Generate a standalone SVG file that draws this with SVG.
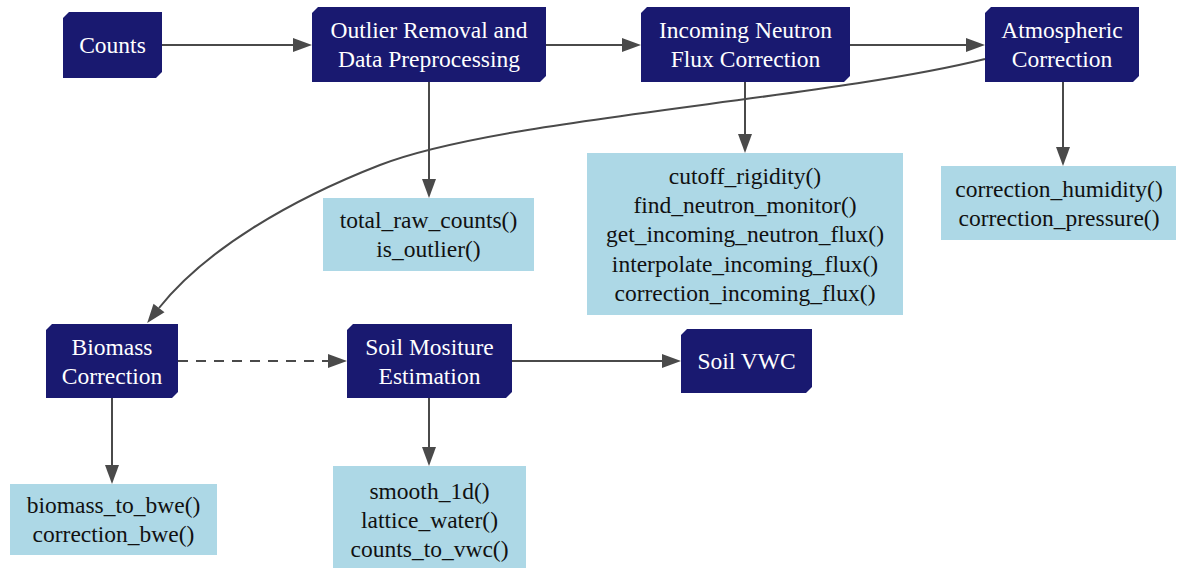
<svg xmlns="http://www.w3.org/2000/svg" width="1182" height="568" viewBox="0 0 1182 568">
<style>
.dn{fill:#191970;}
.ln{fill:#add8e6;}
.t{font-family:"Liberation Serif","Times New Roman",Times,"Nimbus Roman","Nimbus Roman No9 L","FreeSerif","DejaVu Serif","Noto Serif",serif;font-size:23.5px;text-anchor:middle;}
.dt{fill:#ffffff;}
.lt{fill:#111111;}
.e{fill:none;stroke:#4a4a4a;stroke-width:2;}
.dash{stroke-dasharray:10,8;}
</style>
<defs>
<marker id="ah" markerUnits="userSpaceOnUse" markerWidth="20" markerHeight="14" refX="0" refY="7" orient="auto" overflow="visible">
<path d="M0,0 L19,7 L0,14 z" fill="#4a4a4a"/>
</marker>
</defs>
<rect width="1182" height="568" fill="#ffffff"/>
<g id="edges">
<path class="e" d="M162,45 L293,45" marker-end="url(#ah)"/>
<path class="e" d="M546,45 L622,45" marker-end="url(#ah)"/>
<path class="e" d="M850,45 L966,45" marker-end="url(#ah)"/>
<path class="e" d="M429,82 L429,179" marker-end="url(#ah)"/>
<path class="e" d="M745,82 L745,134" marker-end="url(#ah)"/>
<path class="e" d="M1063,82 L1063,147" marker-end="url(#ah)"/>
<path class="e" d="M985,59 C820,100 500,118 380,165 C290,200 205,250 159,308" marker-end="url(#ah)"/>
<path class="e dash" d="M178,361 L328,361" marker-end="url(#ah)"/>
<path class="e" d="M512,361 L662,361" marker-end="url(#ah)"/>
<path class="e" d="M112,398 L112,465" marker-end="url(#ah)"/>
<path class="e" d="M429,398 L429,447" marker-end="url(#ah)"/>
</g>
<g id="counts">
<polygon class="dn" points="69,12 162,12 162,72 156,78 63,78 63,18"/>
<text class="t dt" x="112.5" y="53">Counts</text>
</g>
<g id="outlier">
<polygon class="dn" points="318,7 546,7 546,76 540,82 312,82 312,13"/>
<text class="t dt" x="429" y="38">Outlier Removal and</text>
<text class="t dt" x="429" y="67">Data Preprocessing</text>
</g>
<g id="incoming">
<polygon class="dn" points="647,7 850,7 850,76 844,82 641,82 641,13"/>
<text class="t dt" x="745.5" y="38">Incoming Neutron</text>
<text class="t dt" x="745.5" y="67">Flux Correction</text>
</g>
<g id="atmospheric">
<polygon class="dn" points="991,7 1139,7 1139,76 1133,82 985,82 985,13"/>
<text class="t dt" x="1062" y="38">Atmospheric</text>
<text class="t dt" x="1062" y="67">Correction</text>
</g>
<g id="outlier_fns">
<rect class="ln" x="323" y="198" width="211" height="73"/>
<text class="t lt" x="428.5" y="228">total_raw_counts()</text>
<text class="t lt" x="428.5" y="257">is_outlier()</text>
</g>
<g id="incoming_fns">
<rect class="ln" x="587" y="153" width="316" height="162"/>
<text class="t lt" x="745" y="184">cutoff_rigidity()</text>
<text class="t lt" x="745" y="213">find_neutron_monitor()</text>
<text class="t lt" x="745" y="242">get_incoming_neutron_flux()</text>
<text class="t lt" x="745" y="272">interpolate_incoming_flux()</text>
<text class="t lt" x="745" y="301">correction_incoming_flux()</text>
</g>
<g id="atmospheric_fns">
<rect class="ln" x="941" y="166" width="235" height="74"/>
<text class="t lt" x="1059" y="197">correction_humidity()</text>
<text class="t lt" x="1059" y="226">correction_pressure()</text>
</g>
<g id="biomass">
<polygon class="dn" points="52,324 178,324 178,392 172,398 46,398 46,330"/>
<text class="t dt" x="112" y="355">Biomass</text>
<text class="t dt" x="112" y="384">Correction</text>
</g>
<g id="soil_moisture">
<polygon class="dn" points="353,324 512,324 512,392 506,398 347,398 347,330"/>
<text class="t dt" x="429.5" y="355">Soil Mositure</text>
<text class="t dt" x="429.5" y="384">Estimation</text>
</g>
<g id="soil_vwc">
<polygon class="dn" points="687,329 812,329 812,387 806,393 681,393 681,335"/>
<text class="t dt" x="746.5" y="369">Soil VWC</text>
</g>
<g id="biomass_fns">
<rect class="ln" x="10" y="484" width="207" height="71"/>
<text class="t lt" x="113.5" y="513">biomass_to_bwe()</text>
<text class="t lt" x="113.5" y="542">correction_bwe()</text>
</g>
<g id="soil_fns">
<rect class="ln" x="333" y="466" width="193" height="102"/>
<text class="t lt" x="429.5" y="499">smooth_1d()</text>
<text class="t lt" x="429.5" y="528">lattice_water()</text>
<text class="t lt" x="429.5" y="557">counts_to_vwc()</text>
</g>
</svg>
